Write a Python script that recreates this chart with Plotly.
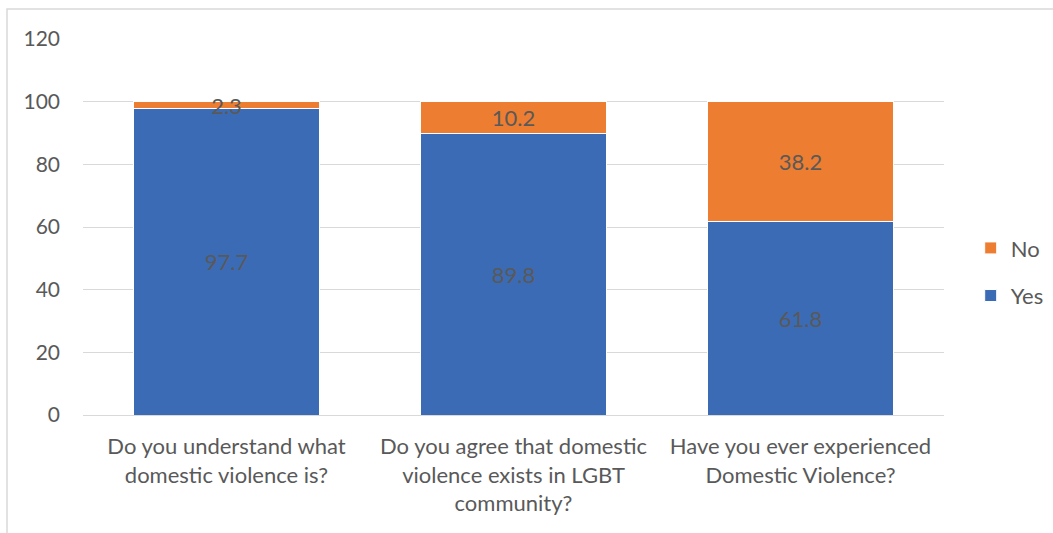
import plotly.graph_objects as go

categories = [
    "Do you understand what<br>domestic violence is?",
    "Do you agree that domestic<br>violence exists in LGBT<br>community?",
    "Have you ever experienced<br>Domestic Violence?",
]
yes_values = [97.7, 89.8, 61.8]
no_values = [2.3, 10.2, 38.2]

FONT = "Lato"
GREY = "#595959"

fig = go.Figure()
fig.add_trace(go.Bar(
    x=categories, y=yes_values, name="Yes",
    marker=dict(color="#3B6BB5", line=dict(color="white", width=1)),
    text=[f"{v}" for v in yes_values], textposition="inside",
    insidetextanchor="middle",
    textfont=dict(color=GREY, size=22, family=FONT),
    legendgroup="yes", legendrank=2,
))
fig.add_trace(go.Bar(
    x=categories, y=no_values, name="No",
    marker=dict(color="#ED7D31", line=dict(color="white", width=1)),
    text=[f"{v}" for v in no_values], textposition="inside",
    insidetextanchor="middle",
    textfont=dict(color=GREY, size=22, family=FONT),
    legendgroup="no", legendrank=1,
))

fig.update_layout(
    barmode="stack",
    bargap=0.355,
    width=1053, height=533,
    margin=dict(l=83, r=109, t=39, b=118, autoexpand=False),
    paper_bgcolor="white", plot_bgcolor="white",
    font=dict(family=FONT, size=22, color=GREY),
    uniformtext=dict(minsize=22, mode="show"),
    legend=dict(
        x=1.031, y=0.38, xanchor="left", yanchor="middle",
        traceorder="grouped", tracegroupgap=16,
        font=dict(size=22, color=GREY, family=FONT),
        bgcolor="rgba(0,0,0,0)",
    ),
    xaxis=dict(
        showgrid=False, showline=False, ticks="",
        tickfont=dict(size=22, color=GREY, family=FONT),
        ticklabelstandoff=16,
    ),
    yaxis=dict(
        range=[0, 120], dtick=20, showgrid=True, gridcolor="#D9D9D9",
        gridwidth=1, zeroline=True, zerolinecolor="#D9D9D9", zerolinewidth=1,
        showline=False, ticks="",
        tickfont=dict(size=21, color=GREY, family=FONT),
        ticklabelstandoff=22,
    ),
    shapes=[dict(
        type="rect", xref="paper", yref="paper",
        x0=(7 - 83) / 861, x1=(1060 - 83) / 861,
        y0=-0.5, y1=(415 - 9) / 376,
        line=dict(color="#D9D9D9", width=1.5), fillcolor="rgba(0,0,0,0)",
        layer="below",
    )],
)

fig.write_html("out.html", config={"displayModeBar": False},
               post_script="document.body.style.margin='0';")
